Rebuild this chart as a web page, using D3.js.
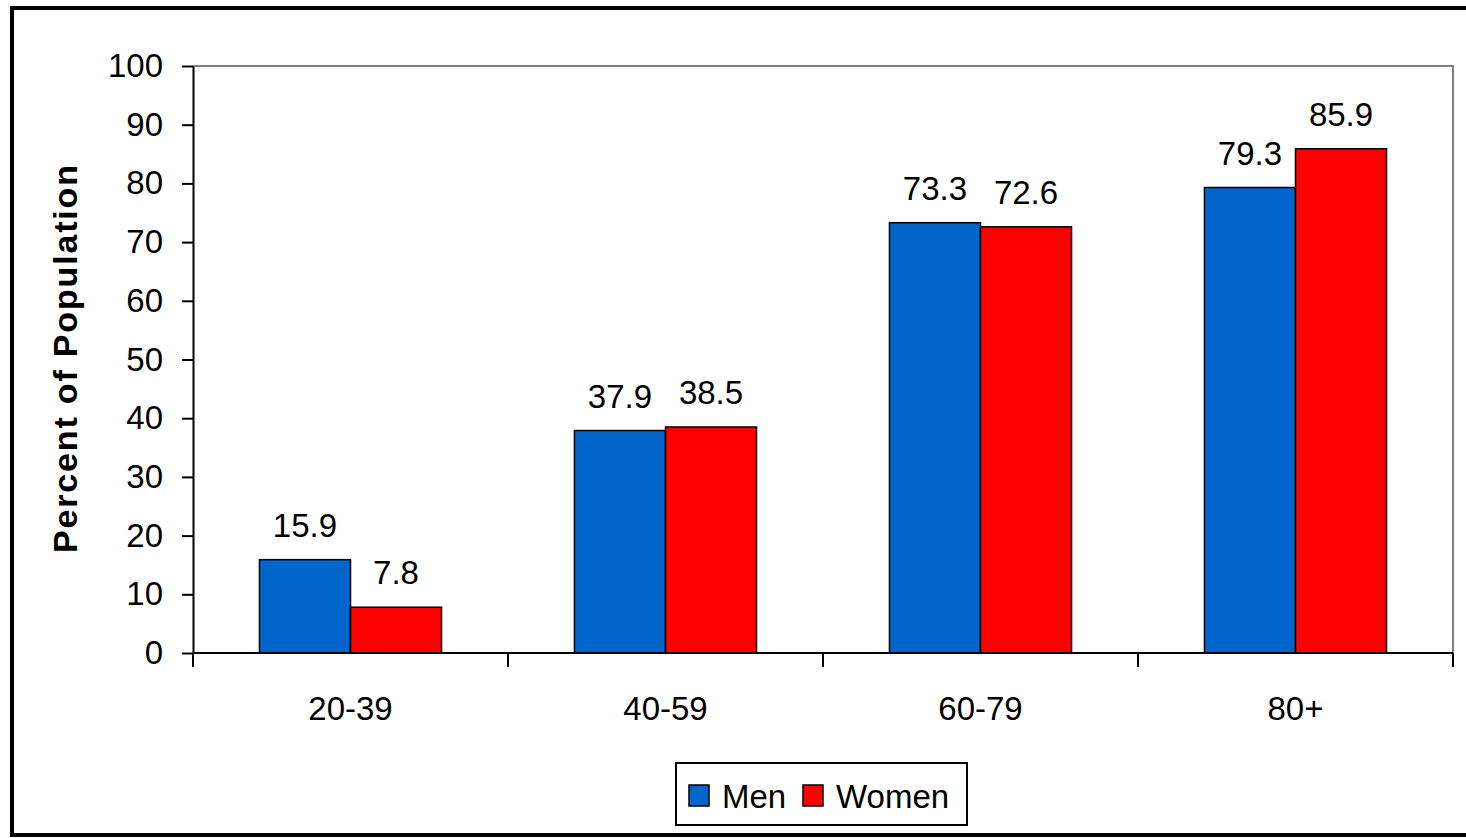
<!DOCTYPE html>
<html>
<head>
<meta charset="utf-8">
<script src="https://cdn.jsdelivr.net/npm/d3@7"></script>
<style>
  html, body { margin: 0; padding: 0; background: #fff; }
  svg { display: block; }
  text { font-family: "Liberation Sans", Arial, sans-serif; fill: #000; }
</style>
</head>
<body>
<svg id="chart" width="1466" height="838"></svg>
<script>
// Age groups and the share of each sex in them (percent)
const categories = ["20-39", "40-59", "60-79", "80+"];
const series = ["Men", "Women"];
const men = [15.9, 37.9, 73.3, 79.3];
const women = [7.8, 38.5, 72.6, 85.9];
const yTicks = [0, 10, 20, 30, 40, 50, 60, 70, 80, 90, 100];
const colors = { Men: "#0066CC", Women: "#FF0000" };

const values = { Men: men, Women: women };
const rows = categories.map((c, i) => ({
  category: c,
  bars: series.map(s => ({ series: s, value: values[s][i] }))
}));

const svg = d3.select("#chart");
const plot = { left: 193, right: 1453, top: 66, bottom: 653 };
const fontSize = 33;

// Outer frame
svg.append("rect")
  .attr("x", 12).attr("y", 8)
  .attr("width", 1462).attr("height", 827)
  .attr("fill", "#fff")
  .attr("stroke", "#000").attr("stroke-width", 4);

const x = d3.scaleBand().domain(categories).range([plot.left, plot.right]).padding(0);
const gapRatio = 1.46;                       // gap between groups relative to one bar
const barW = x.bandwidth() / (series.length + gapRatio);
const xs = d3.scaleBand().domain(series)
  .range([(x.bandwidth() - barW * series.length) / 2, (x.bandwidth() + barW * series.length) / 2])
  .padding(0);
const y = d3.scaleLinear().domain([0, 100]).range([plot.bottom, plot.top]);

// Plot area border (top and right in grey)
svg.append("path")
  .attr("d", `M${plot.left},${plot.top}H${plot.right}V${plot.bottom}`)
  .attr("fill", "none").attr("stroke", "#808080").attr("stroke-width", 2);

// Bars
const groups = svg.append("g").selectAll("g").data(rows).join("g")
  .attr("transform", d => `translate(${x(d.category)},0)`);

groups.selectAll("rect").data(d => d.bars).join("rect")
  .attr("x", d => xs(d.series))
  .attr("y", d => y(d.value))
  .attr("width", xs.bandwidth())
  .attr("height", d => y(0) - y(d.value))
  .attr("fill", d => colors[d.series])
  .attr("stroke", "#000").attr("stroke-width", 1.5);

// Value labels
groups.selectAll("text.val").data(d => d.bars).join("text")
  .attr("class", "val")
  .attr("x", d => xs(d.series) + xs.bandwidth() / 2)
  .attr("y", d => y(d.value) - 23)
  .attr("text-anchor", "middle")
  .style("font-size", fontSize + "px")
  .text(d => d.value.toFixed(1));

// Y axis
const yAxis = svg.append("g")
  .attr("transform", `translate(${plot.left},0)`)
  .call(d3.axisLeft(y).tickValues(yTicks).tickSize(11).tickPadding(19).tickSizeOuter(0));
yAxis.select(".domain").attr("stroke", "#000").attr("stroke-width", 2);
yAxis.selectAll(".tick line").attr("stroke", "#000").attr("stroke-width", 2);
yAxis.selectAll(".tick text")
  .style("font-size", fontSize + "px")
  .style("font-family", "'Liberation Sans', Arial, sans-serif")
  .attr("fill", "#000");

// X axis: baseline with ticks at the category boundaries
const xAxis = svg.append("g").attr("transform", `translate(0,${plot.bottom})`);
xAxis.append("line")
  .attr("x1", plot.left).attr("x2", plot.right)
  .attr("stroke", "#000").attr("stroke-width", 2);
const boundaries = categories.map(c => x(c)).concat([x(categories[categories.length - 1]) + x.bandwidth()]);
xAxis.selectAll("line.tick").data(boundaries).join("line")
  .attr("class", "tick")
  .attr("x1", d => d).attr("x2", d => d)
  .attr("y1", 0).attr("y2", 14)
  .attr("stroke", "#000").attr("stroke-width", 2);
xAxis.selectAll("text").data(categories).join("text")
  .attr("x", d => x(d) + x.bandwidth() / 2)
  .attr("y", 67)
  .attr("text-anchor", "middle")
  .style("font-size", fontSize + "px")
  .text(d => d);

// Y axis title
svg.append("text")
  .attr("transform", `translate(77,${(165 + 553) / 2}) rotate(-90)`)
  .attr("text-anchor", "middle")
  .attr("textLength", 388)
  .attr("lengthAdjust", "spacing")
  .style("font-size", "34px")
  .style("font-weight", "bold")
  .text("Percent of Population");

// Legend
const legend = svg.append("g").attr("transform", "translate(676,763)");
legend.append("rect")
  .attr("width", 291).attr("height", 62)
  .attr("fill", "#fff").attr("stroke", "#000").attr("stroke-width", 2);
const legendX = { Men: 13, Women: 127 };
const items = legend.selectAll("g.item").data(series).join("g")
  .attr("class", "item")
  .attr("transform", d => `translate(${legendX[d]},22)`);
items.append("rect")
  .attr("width", 20).attr("height", 21)
  .attr("fill", d => colors[d]).attr("stroke", "#000").attr("stroke-width", 1.5);
items.append("text")
  .attr("x", 33).attr("y", 23)
  .style("font-size", fontSize + "px")
  .text(d => d);
</script>
</body>
</html>
